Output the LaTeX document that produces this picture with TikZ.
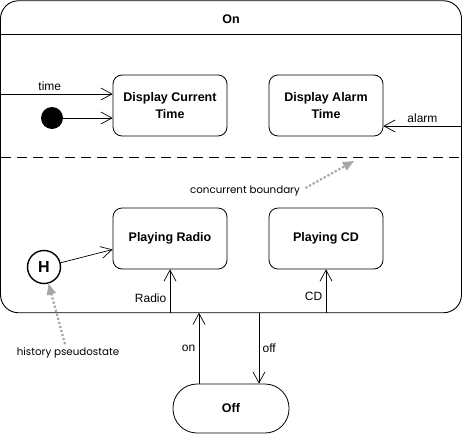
\documentclass[tikz,border=0pt]{standalone}
\usepackage{fontspec}
\setmainfont{Liberation Sans}
\newfontfamily\notefont{Poppins}
\usetikzlibrary{arrows.meta}

\begin{document}
\begin{tikzpicture}[x=1pt,y=-1pt,
    state/.style={draw, rounded corners=9pt, line width=0.8pt, minimum width=114pt,
      minimum height=61pt, align=center, font=\bfseries\fontsize{12.5}{17}\selectfont},
    trans/.style={line width=0.7pt, -{Straight Barb[length=11pt,width=12pt]}},
    lbl/.style={font=\fontsize{12}{14}\selectfont},
    note/.style={font=\notefont\fontsize{10.3}{12}\selectfont},
    pointer/.style={draw=gray!70, line width=2.2pt, dotted,
      -{Triangle[length=11pt,width=9pt,fill=gray!70]}}]
    \useasboundingbox (0,0) rectangle (462,434);
    % the composite state
    \node[draw, rounded corners=18pt, line width=0.9pt, minimum width=461pt,
      minimum height=312pt, inner sep=0pt, outer sep=0pt] (on) at (231,156.75) {};
    \node[font=\bfseries\fontsize{12.5}{15}\selectfont] (ontitle) at (231,19) {On};
    \draw[line width=0.8pt] (on.west |- 0,34) -- (on.east |- 0,34);
    \draw[line width=1pt, dash pattern=on 10pt off 6pt] (on.west |- 0,157) -- (on.east |- 0,157);

    % upper region
    \node[state] (dct) at (170,105.5) {Display Current\\Time};
    \node[state] (dat) at (326,105.5) {Display Alarm\\Time};
    \node[circle, fill=black, minimum size=22pt, inner sep=0pt] (init) at (52,118) {};
    \coordinate (timein) at (0.5,94);
    \coordinate (alarmin) at (461.5,126);
    \draw[trans] (timein) -- (timein -| dct.west) node[lbl, pos=0.44, above] {time};
    \draw[trans] (init) -- (init -| dct.west);
    \draw[trans] (alarmin) -- (alarmin -| dat.east) node[lbl, midway, above] {alarm};

    % lower region
    \node[state] (radio) at (170,238.5) {Playing Radio};
    \node[state] (cd) at (326,238.5) {Playing CD};
    \node[circle, draw, line width=1.4pt, minimum size=33pt, inner sep=0pt,
      font=\bfseries\fontsize{16}{18}\selectfont] (hist) at (44,267) {H};
    \draw[trans] (hist) -- ([yshift=-11pt]radio.west);
    \coordinate (radioin) at (radio.south |- on.south);
    \coordinate (cdin) at (cd.south |- on.south);
    \draw[trans] (radioin) -- (radio.south) node[lbl, pos=0.34, left] {Radio};
    \draw[trans] (cdin) -- (cd.south) node[lbl, pos=0.38, left] {CD};

    % off state
    \node[draw, rounded corners=24pt, line width=0.8pt, minimum width=116pt, minimum height=49pt,
      font=\bfseries\fontsize{12.5}{15}\selectfont] (off) at (231,408.5) {Off};
    \draw[trans] ([xshift=-32pt]off.north) -- ([xshift=-32pt]off.north |- on.south)
      node[lbl, midway, left] {on};
    \draw[trans] ([xshift=28pt]off.north |- on.south) -- ([xshift=28pt]off.north)
      node[lbl, midway, right] {off};

    % notes
    \node[note] (cbnote) at (245,191) {concurrent boundary};
    \coordinate (cbtip) at (354,161);
    \draw[pointer] ([xshift=2pt,yshift=3pt]cbnote.east) -- (cbtip);
    \node[note] (hnote) at (68,353) {history pseudostate};
    \draw[pointer] ([xshift=-3pt]hnote.north) -- (hist);
\end{tikzpicture}
\end{document}
